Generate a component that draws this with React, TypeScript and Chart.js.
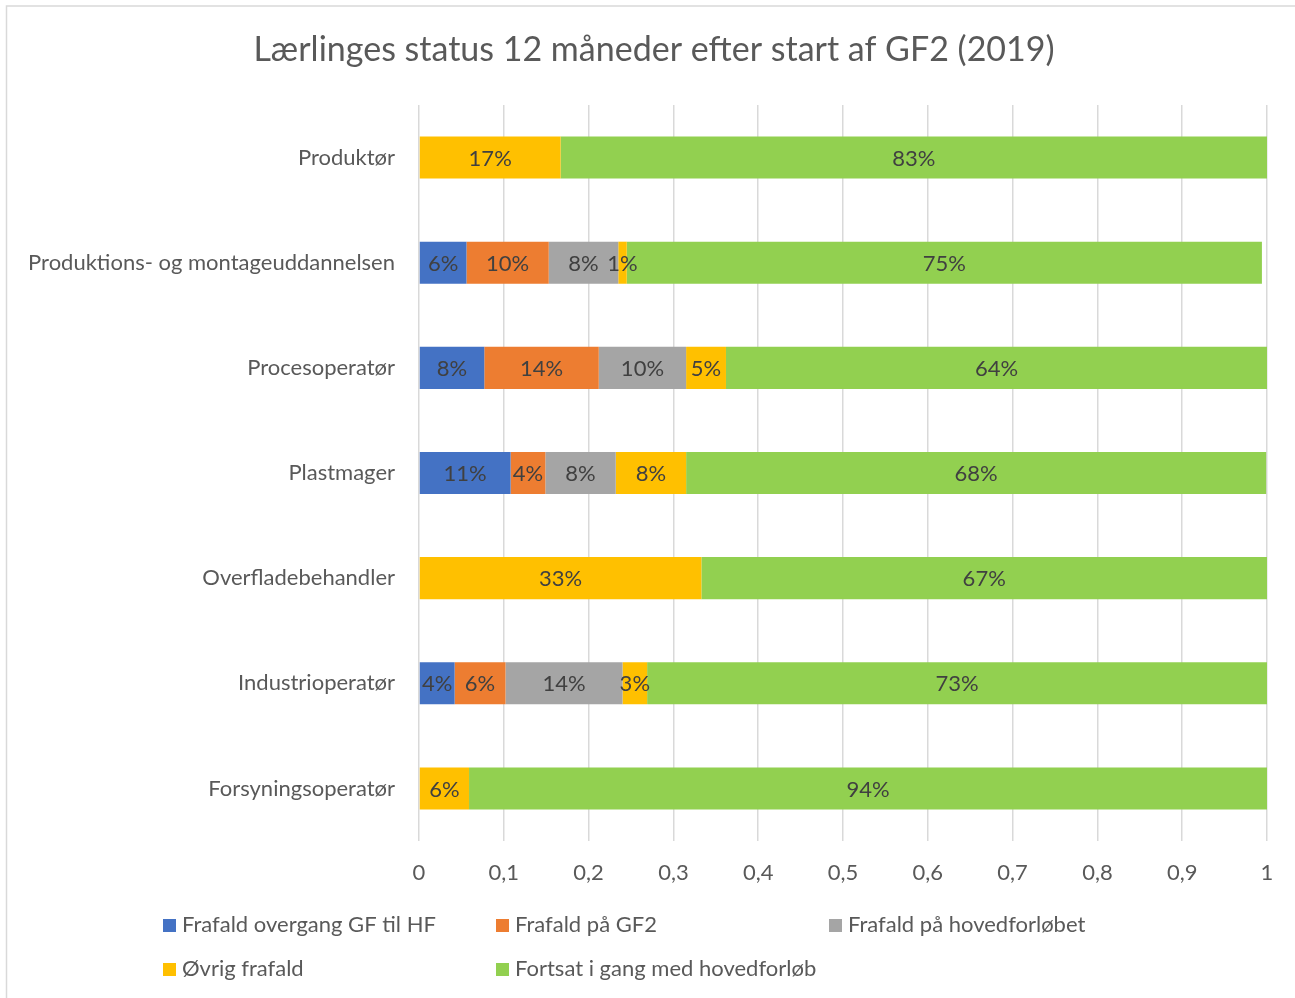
import React, { useEffect, useRef } from "react";
import { Chart, registerables } from "chart.js";

Chart.register(...registerables);

const title = "Lærlinges status 12 måneder efter start af GF2 (2019)";
const categories = [
  "Produktør",
  "Produktions- og montageuddannelsen",
  "Procesoperatør",
  "Plastmager",
  "Overfladebehandler",
  "Industrioperatør",
  "Forsyningsoperatør",
];
const seriesNames = [
  "Frafald overgang GF til HF",
  "Frafald på GF2",
  "Frafald på hovedforløbet",
  "Øvrig frafald",
  "Fortsat i gang med hovedforløb",
];
const frafaldOvergang = [0, 0.056, 0.077, 0.108, 0, 0.042, 0];
const frafaldGF2 = [0, 0.097, 0.135, 0.041, 0, 0.06, 0];
const frafaldHoved = [0, 0.082, 0.103, 0.083, 0, 0.138, 0];
const oevrigFrafald = [0.167, 0.01, 0.047, 0.083, 0.333, 0.029, 0.059];
const fortsat = [0.833, 0.749, 0.638, 0.684, 0.667, 0.731, 0.941];
const colors = ["#4472C4", "#ED7D31", "#A5A5A5", "#FFC000", "#92D050"];
const xTicks = [0, 0.1, 0.2, 0.3, 0.4, 0.5, 0.6, 0.7, 0.8, 0.9, 1];

const FONT = "Lato, 'Open Sans', sans-serif";
const TEXT = "#595959";
const SIZE = 22;

const framePlugin = {
  id: "frame",
  beforeDraw(chart: any) {
    const { ctx, width, height } = chart;
    ctx.save();
    ctx.fillStyle = "#ffffff";
    ctx.fillRect(0, 0, width, height);
    ctx.strokeStyle = "#d9d9d9";
    ctx.lineWidth = 1.5;
    ctx.beginPath();
    ctx.moveTo(6.5, height);
    ctx.lineTo(6.5, 6);
    ctx.lineTo(width, 6);
    ctx.stroke();
    ctx.restore();
  },
};

const titlePlugin = {
  id: "customTitle",
  afterDraw(chart: any) {
    const { ctx, chartArea } = chart;
    ctx.save();
    ctx.fillStyle = TEXT;
    ctx.font = `34px ${FONT}`;
    ctx.textAlign = "center";
    ctx.textBaseline = "middle";
    ctx.fillText(title, (chartArea.left + chartArea.right) / 2 - 189, 50);
    ctx.restore();
  },
};

const labelPlugin = {
  id: "segLabels",
  afterDatasetsDraw(chart: any) {
    const { ctx } = chart;
    ctx.save();
    ctx.fillStyle = "#404040";
    ctx.font = `${SIZE}px ${FONT}`;
    ctx.textAlign = "center";
    ctx.textBaseline = "middle";
    chart.data.datasets.forEach((ds: any, di: number) => {
      const meta = chart.getDatasetMeta(di);
      meta.data.forEach((bar: any, i: number) => {
        const v = ds.data[i];
        if (!v) return;
        const cx = (bar.x + bar.base) / 2;
        ctx.fillText(Math.round(v * 100) + "%", cx, bar.y + 1);
      });
    });
    ctx.restore();
  },
};

const legendPlugin = {
  id: "gridLegend",
  afterDraw(chart: any) {
    const { ctx } = chart;
    const startX = 163;
    const colW = 333;
    const rows = [925, 969];
    ctx.save();
    ctx.font = `${SIZE}px ${FONT}`;
    ctx.textBaseline = "middle";
    ctx.textAlign = "left";
    chart.data.datasets.forEach((ds: any, i: number) => {
      const col = i % 3;
      const row = Math.floor(i / 3);
      const x = startX + col * colW;
      const y = rows[row];
      ctx.fillStyle = ds.backgroundColor;
      ctx.fillRect(x, y - 6, 13, 13);
      ctx.fillStyle = TEXT;
      ctx.fillText(ds.label, x + 19, y);
    });
    ctx.restore();
  },
};

export default function App() {
  const ref = useRef<HTMLCanvasElement>(null);
  useEffect(() => {
    if (!ref.current) return;
    const seriesData = [frafaldOvergang, frafaldGF2, frafaldHoved, oevrigFrafald, fortsat];
    const chart = new Chart(ref.current, {
      type: "bar",
      data: {
        labels: categories,
        datasets: seriesNames.map((name, i) => ({
          label: name,
          data: seriesData[i],
          backgroundColor: colors[i],
          borderWidth: 0,
          barPercentage: 1,
          categoryPercentage: 0.4,
        })),
      },
      options: {
        indexAxis: "y",
        responsive: false,
        animation: false,
        layout: { padding: { top: 105, right: 28, bottom: 107, left: 0 } },
        plugins: {
          legend: { display: false },
          title: { display: false },
          tooltip: { enabled: false },
        },
        scales: {
          x: {
            stacked: true,
            min: 0,
            max: 1,
            afterFit: (s: any) => {
              s.height = 50;
            },
            afterBuildTicks: (s: any) => {
              s.ticks = xTicks.map((v) => ({ value: v }));
            },
            grid: { color: "#d9d9d9", lineWidth: 1.5, drawTicks: false },
            border: { display: false },
            ticks: {
              padding: 19,
              color: TEXT,
              font: { family: FONT, size: SIZE },
              callback: (v: any) => String(Number(Number(v).toFixed(1))).replace(".", ","),
            },
          },
          y: {
            stacked: true,
            afterFit: (s: any) => {
              s.width = 419;
            },
            grid: { display: false, drawTicks: false },
            border: { display: false },
            ticks: {
              padding: 24,
              color: TEXT,
              font: { family: FONT, size: SIZE },
            },
          },
        },
      },
      plugins: [framePlugin, titlePlugin, labelPlugin, legendPlugin],
    });
    return () => chart.destroy();
  }, []);
  return (
    <div style={{ position: "absolute", left: 0, top: 0, width: 1295, height: 998 }}>
      <canvas ref={ref} width={1295} height={998} />
    </div>
  );
}
